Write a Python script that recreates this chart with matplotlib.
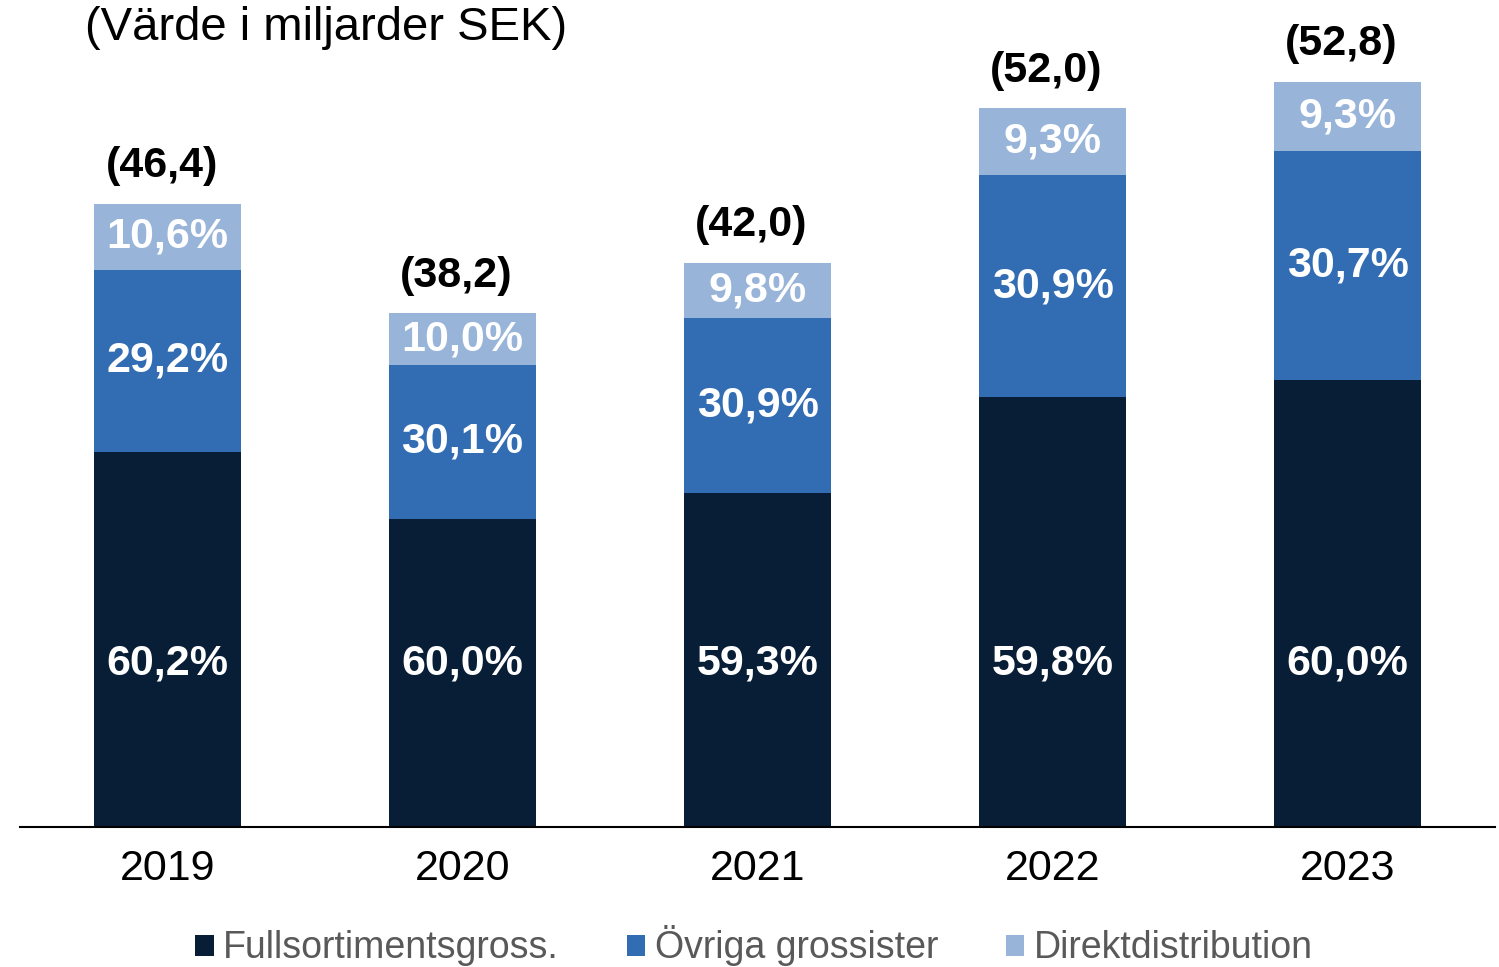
import matplotlib
matplotlib.use('Agg')
from matplotlib import pyplot as plt

years = ['2019', '2020', '2021', '2022', '2023']
totals = ['(46,4)', '(38,2)', '(42,0)', '(52,0)', '(52,8)']
# bar heights as drawn in the original chart
bar_height = [46.4, 38.2, 42.0, 53.5, 55.5]
full = [60.2, 60.0, 59.3, 59.8, 60.0]
ovriga = [29.2, 30.1, 30.9, 30.9, 30.7]
direkt = [10.6, 10.0, 9.8, 9.3, 9.3]
series_names = ['Fullsortimentsgross.', 'Övriga grossister', 'Direktdistribution']

colors = ['#081d36', '#326db3', '#98b4d9']

plt.rcParams['font.family'] = ['Liberation Sans', 'DejaVu Sans']

fig = plt.figure(figsize=(14.99, 9.67), dpi=100)
axes = fig.add_axes([20 / 1499, 1 - 827 / 967, 1475 / 1499, 827 / 967])

x = range(len(years))
bottoms = [0.0] * len(years)
for vals, col, name in zip([full, ovriga, direkt], colors, series_names):
    seg = [h * v / 100.0 for h, v in zip(bar_height, vals)]
    axes.bar(x, seg, width=0.5, bottom=bottoms, color=col, label=name)
    for i in x:
        if col == colors[0]:
            ypos = 12.2
        else:
            ypos = bottoms[i] + seg[i] / 2.0
        axes.text(i, ypos, ('%.1f%%' % vals[i]).replace('.', ','),
                  ha='center', va='center', color='white',
                  fontsize=31, fontweight='bold')
    bottoms = [b + s for b, s in zip(bottoms, seg)]

for i in x:
    axes.text(i - 0.02, bottoms[i] + 1.3, totals[i], ha='center', va='bottom',
              fontsize=31, fontweight='bold', color='black')

axes.set_xlim(-0.5, 4.5)
axes.set_ylim(0, 827 / 13.43)
for s in ['top', 'right', 'left']:
    axes.spines[s].set_visible(False)
axes.spines['bottom'].set_linewidth(1.5)
axes.set_yticks([])
axes.set_xticks(list(x))
axes.set_xticklabels(years, fontsize=31)
axes.tick_params(axis='x', length=0, pad=16)

fig.text(85 / 1499, 1 - 28 / 967, '(Värde i miljarder SEK)', fontsize=34,
         va='center', ha='left')

leg = fig.legend(loc='center', bbox_to_anchor=(754 / 1499, 1 - 946 / 967),
                 ncol=3, frameon=False, fontsize=27, handlelength=0.5,
                 handleheight=0.5, handletextpad=0.25, columnspacing=1.8)
for t in leg.get_texts():
    t.set_color('#595959')

plt.savefig('out.png', dpi=100)
